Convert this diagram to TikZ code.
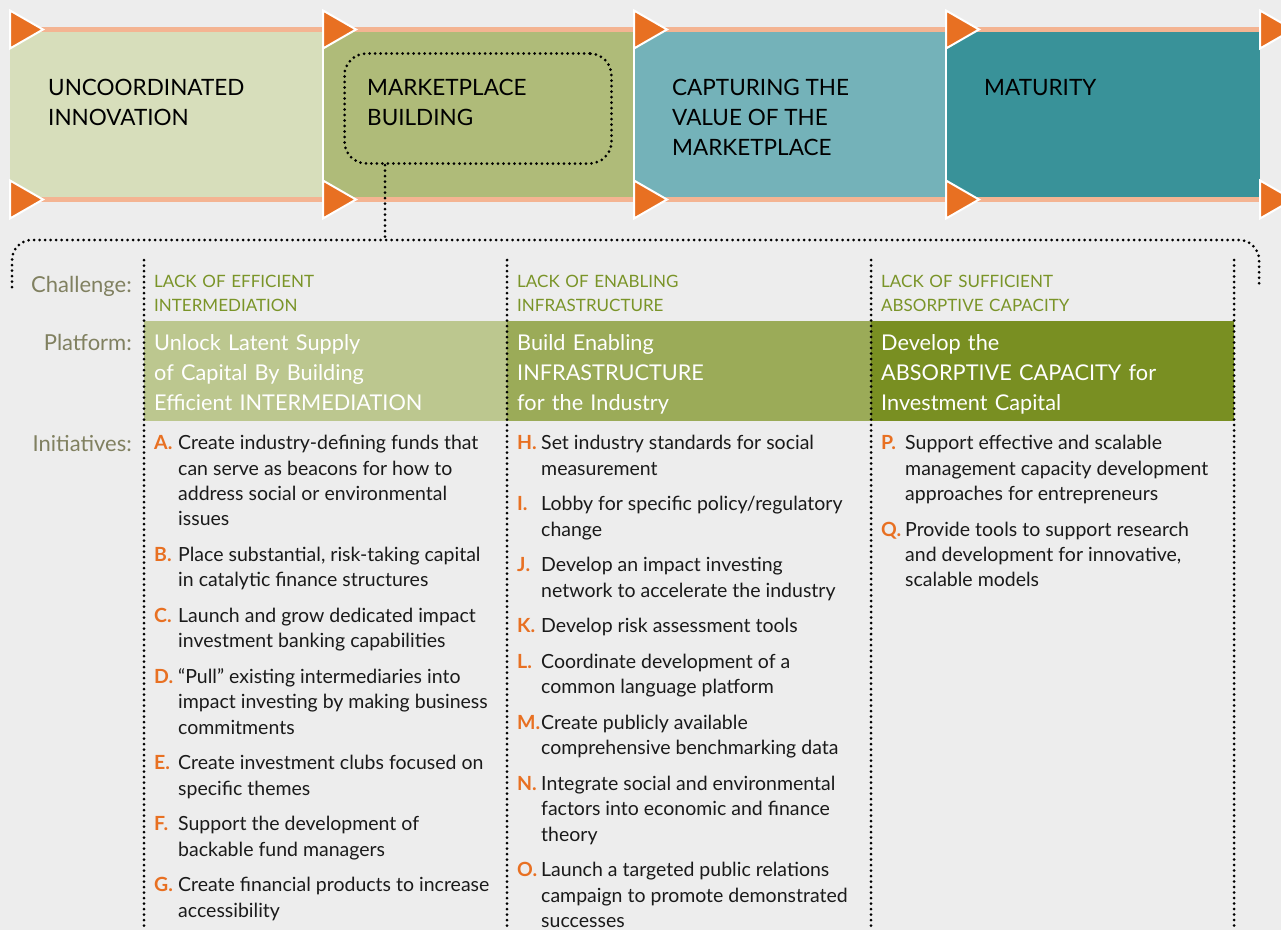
\documentclass[tikz,border=0pt]{standalone}
\usepackage{fontspec}
\setmainfont{Lato}
\usepackage{xcolor}
\usepackage{tikz}
\usetikzlibrary{positioning}

\definecolor{bgray}{RGB}{237,237,237}
\definecolor{rail}{RGB}{244,180,146}
\definecolor{flag}{RGB}{232,112,34}
\definecolor{ph1}{RGB}{215,222,187}
\definecolor{ph2}{RGB}{175,187,121}
\definecolor{ph3}{RGB}{116,178,185}
\definecolor{ph4}{RGB}{57,146,153}
\definecolor{bd1}{RGB}{188,199,143}
\definecolor{bd2}{RGB}{155,171,88}
\definecolor{bd3}{RGB}{121,143,34}
\definecolor{chal}{RGB}{122,148,40}
\definecolor{lblc}{RGB}{128,128,96}
\definecolor{ink}{RGB}{26,26,26}

\newcommand{\itm}[2]{\makebox[24pt][l]{\textcolor{flag}{\bfseries #1.}}%
  \parbox[t]{330pt}{\raggedright\strut#2\strut}}

\begin{document}
\begin{tikzpicture}[x=1pt, y=-1pt,
  phase/.style={rectangle, inner sep=0pt, minimum height=165pt, anchor=north west},
  phasetxt/.style={inner sep=0pt, anchor=north west, align=left, text=black,
    font=\fontsize{22.5}{30}\selectfont},
  band/.style={rectangle, inner sep=0pt, minimum height=100pt, anchor=north west},
  plat/.style={inner sep=0pt, anchor=north west, align=left, text=white,
    text width=345pt, font=\fontsize{21.7}{30}\selectfont},
  chaltxt/.style={inner sep=0pt, anchor=north west, align=left, text=chal,
    text width=345pt, font=\fontsize{17}{24}\selectfont},
  lbl/.style={inner sep=0pt, anchor=base east, text=lblc,
    font=\fontsize{22}{24}\selectfont},
  item/.style={inner sep=0pt, anchor=north west, text=ink,
    font=\fontsize{19.5}{25.3}\selectfont},
  dots/.style={dash pattern=on 0pt off 5.5pt, line cap=round, line width=3pt, black},
  flagtri/.style={fill=flag, draw=white, line width=2pt, line join=miter}
]
\useasboundingbox[fill=bgray] (0,0) rectangle (1281,930);

% phases
\node[phase, fill=ph1, minimum width=313pt] (p1) at (10,32) {};
\node[phase, fill=ph2, minimum width=311pt] (p2) at (323,32) {};
\node[phase, fill=ph3, minimum width=312pt] (p3) at (634,32) {};
\node[phase, fill=ph4, minimum width=314pt] (p4) at (946,32) {};
\foreach \n in {p2,p3,p4}
  \draw[white, line width=1.5pt] (\n.north west) -- (\n.south west);

\draw[rail, line width=5pt] ([yshift=2.5pt]p1.north west) -- ([yshift=2.5pt]p4.north east);
\draw[rail, line width=5pt] ([yshift=-2.5pt]p1.south west) -- ([yshift=-2.5pt]p4.south east);

\foreach \x in {10,323,634,946,1260}
  \foreach \y in {29.5,199.5}
    \draw[flagtri] (\x,\y-19) -- (\x+33,\y) -- (\x,\y+19) -- cycle;

\node[phasetxt] (t1) at (48,74) {\strut UNCOORDINATED\\INNOVATION\strut};
\node[phasetxt] (t2) at (367,74) {\strut MARKETPLACE\\BUILDING\strut};
\node[phasetxt] (t3) at (672,74) {\strut CAPTURING THE\\VALUE OF THE\\MARKETPLACE\strut};
\node[phasetxt] (t4) at (984,74) {\strut MATURITY\strut};

% callout
\node[draw, dots, rounded corners=22pt, minimum width=267pt, minimum height=110pt,
  anchor=north west, inner sep=0pt] (mb) at (343,52) {};
\coordinate (stem) at (385,240);
\draw[dots] (mb.south -| stem) -- (stem);
\draw[dots, rounded corners=20pt] (12,287) -- (12,240) -- (1259,240) -- (1259,287);

% labels
\node[lbl] (lchal) at (132,292) {Challenge:};
\node[lbl] (lplat) at (132,350) {Platform:};
\node[lbl] (linit) at (132,451) {Initiatives:};

% challenges
\node[chaltxt] (c1) at (154,270) {\strut LACK OF EFFICIENT\\INTERMEDIATION\strut};
\node[chaltxt] (c2) at (517,270) {\strut LACK OF ENABLING\\INFRASTRUCTURE\strut};
\node[chaltxt] (c3) at (881,270) {\strut LACK OF SUFFICIENT\\ABSORPTIVE CAPACITY\strut};

% platforms
\node[band, fill=bd1, minimum width=363pt] (pl1) at (144,321) {};
\node[band, fill=bd2, minimum width=364pt] (pl2) at (507,321) {};
\node[band, fill=bd3, minimum width=363pt] (pl3) at (871,321) {};
\node[plat] (pt1) at ([xshift=10pt, yshift=-8pt]pl1.north west)
  {\strut Unlock Latent Supply\\of Capital By Building\\Efficient INTERMEDIATION\strut};
\node[plat] (pt2) at ([xshift=10pt, yshift=-8pt]pl2.north west)
  {\strut Build Enabling\\INFRASTRUCTURE\\for the Industry\strut};
\node[plat] (pt3) at ([xshift=10pt, yshift=-8pt]pl3.north west)
  {\strut Develop the\\ABSORPTIVE CAPACITY for\\Investment Capital\strut};

\foreach \x in {144,507,871,1234}
  \draw[dots] (\x,260) -- (\x,930);

% initiatives
\node[item] (A) at (154,432) {\itm{A}{Create industry-defining funds that\\can serve as beacons for how to\\address social or environmental\\issues}};
\node[item, below right=10pt and 0pt of A.south west] (B) {\itm{B}{Place substantial, risk-taking capital\\in catalytic finance structures}};
\node[item, below right=10pt and 0pt of B.south west] (C) {\itm{C}{Launch and grow dedicated impact\\investment banking capabilities}};
\node[item, below right=10pt and 0pt of C.south west] (D) {\itm{D}{“Pull” existing intermediaries into\\impact investing by making business\\commitments}};
\node[item, below right=10pt and 0pt of D.south west] (E) {\itm{E}{Create investment clubs focused on\\specific themes}};
\node[item, below right=10pt and 0pt of E.south west] (F) {\itm{F}{Support the development of\\backable fund managers}};
\node[item, below right=10pt and 0pt of F.south west] (G) {\itm{G}{Create financial products to increase\\accessibility}};

\node[item] (H) at (517,432) {\itm{H}{Set industry standards for social\\measurement}};
\node[item, below right=10pt and 0pt of H.south west] (I) {\itm{I}{Lobby for specific policy/regulatory\\change}};
\node[item, below right=10pt and 0pt of I.south west] (J) {\itm{J}{Develop an impact investing\\network to accelerate the industry}};
\node[item, below right=10pt and 0pt of J.south west] (K) {\itm{K}{Develop risk assessment tools}};
\node[item, below right=10pt and 0pt of K.south west] (L) {\itm{L}{Coordinate development of a\\common language platform}};
\node[item, below right=10pt and 0pt of L.south west] (M) {\itm{M}{Create publicly available\\comprehensive benchmarking data}};
\node[item, below right=10pt and 0pt of M.south west] (N) {\itm{N}{Integrate social and environmental\\factors into economic and finance\\theory}};
\node[item, below right=10pt and 0pt of N.south west] (O) {\itm{O}{Launch a targeted public relations\\campaign to promote demonstrated\\successes}};

\node[item] (P) at (881,432) {\itm{P}{Support effective and scalable\\management capacity development\\approaches for entrepreneurs}};
\node[item, below right=10pt and 0pt of P.south west] (Q) {\itm{Q}{Provide tools to support research\\and development for innovative,\\scalable models}};

\end{tikzpicture}
\end{document}
